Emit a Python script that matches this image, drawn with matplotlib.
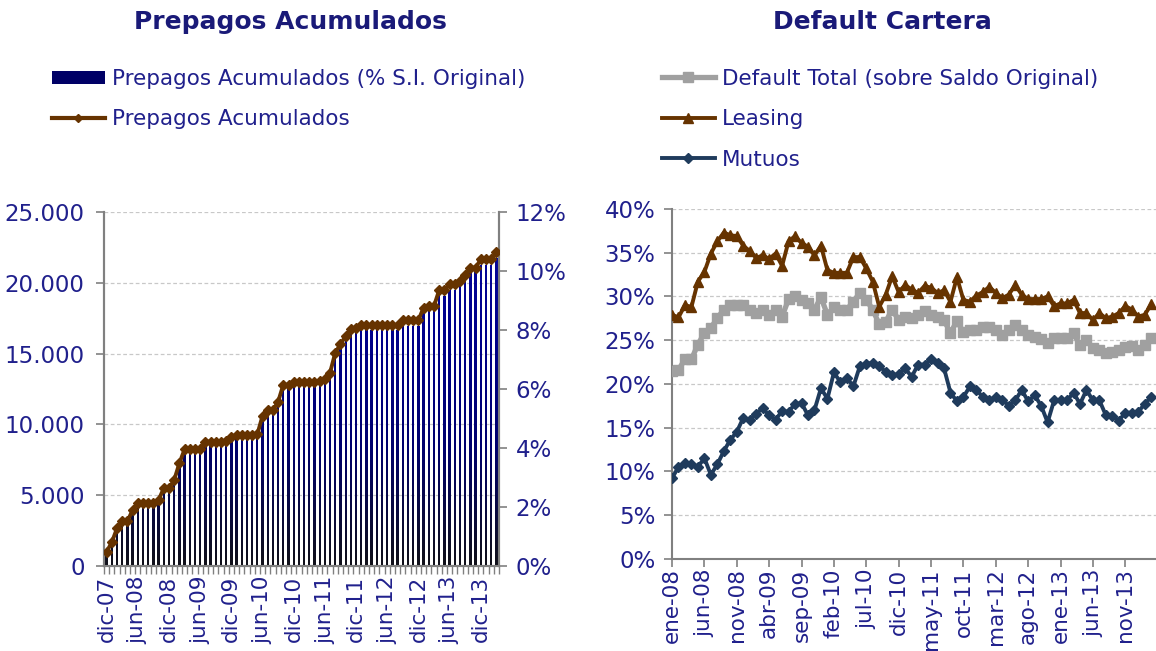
import numpy as np
import matplotlib
matplotlib.use("Agg")
import matplotlib.pyplot as plt
from matplotlib.lines import Line2D
from matplotlib.patches import Patch
from matplotlib.path import Path
from matplotlib.colors import LinearSegmentedColormap

# ---------------- data ----------------
# Left chart: monthly, dic-07 .. mar-14 (76 months)
prepagos_acum = [1000, 1670, 2660, 3180, 3150, 3950, 4430, 4430, 4430, 4430,
                 4660, 5490, 5490, 6070, 7250, 8240, 8240, 8240, 8240, 8780,
                 8780, 8780, 8780, 8850, 9130, 9270, 9270, 9270, 9270, 9300,
                 10600, 11000, 11000, 11600, 12800, 12800, 13000, 13000, 13000, 13000,
                 13000, 13070, 13190, 13660, 15070, 15660, 16240, 16720, 16840, 17000,
                 17000, 17000, 17000, 17000, 17000, 17000, 17000, 17370, 17370, 17370,
                 17370, 18250, 18370, 18370, 19490, 19490, 19890, 19900, 20130, 20530,
                 21070, 21070, 21660, 21660, 21660, 22180]
prepagos_pct = [0.40, 0.70, 1.15, 1.45, 1.45, 1.80, 2.05, 2.05, 2.05, 2.05,
                2.15, 2.50, 2.50, 2.80, 3.35, 3.85, 3.85, 3.85, 3.85, 4.10,
                4.10, 4.10, 4.10, 4.15, 4.25, 4.35, 4.35, 4.35, 4.35, 4.40,
                4.95, 5.15, 5.15, 5.45, 6.00, 6.00, 6.10, 6.10, 6.10, 6.10,
                6.10, 6.15, 6.20, 6.45, 7.10, 7.40, 7.65, 7.85, 7.95, 8.00,
                8.00, 8.00, 8.00, 8.00, 8.00, 8.00, 8.00, 8.15, 8.15, 8.15,
                8.15, 8.60, 8.65, 8.65, 9.15, 9.15, 9.35, 9.35, 9.50, 9.70,
                9.95, 9.95, 10.20, 10.20, 10.20, 10.45]
left_tick_pos = [0, 6, 12, 18, 24, 30, 36, 42, 48, 54, 60, 66, 72]
left_tick_labels = ["dic-07", "jun-08", "dic-08", "jun-09", "dic-09", "jun-10",
                    "dic-10", "jun-11", "dic-11", "jun-12", "dic-12", "jun-13", "dic-13"]
left_yticks = [0, 5000, 10000, 15000, 20000, 25000]
left_yticklabels = ["0", "5.000", "10.000", "15.000", "20.000", "25.000"]
right_pct_ticks = [0, 2, 4, 6, 8, 10, 12]

# Right chart: monthly, ene-08 .. mar-14 (75 months), values in %
default_total = [21.5, 21.6, 22.8, 22.8, 24.5, 25.8, 26.4, 27.5, 28.5, 29.0,
                 29.0, 29.0, 28.5, 28.1, 28.5, 27.9, 28.5, 27.7, 29.7, 30.1,
                 29.6, 29.2, 28.5, 29.9, 27.9, 28.8, 28.5, 28.5, 29.4, 30.4,
                 29.6, 28.5, 26.8, 27.1, 28.5, 27.3, 27.7, 27.5, 27.9, 28.3,
                 27.9, 27.7, 27.3, 25.8, 27.2, 25.9, 26.2, 26.2, 26.5, 26.5,
                 26.2, 25.6, 26.2, 26.7, 26.2, 25.6, 25.4, 25.1, 24.7, 25.2,
                 25.2, 25.2, 25.8, 24.4, 25.0, 24.1, 23.9, 23.5, 23.7, 23.9,
                 24.2, 24.3, 23.9, 24.4, 25.3]
leasing = [27.9, 27.6, 29.0, 28.8, 31.7, 32.8, 34.9, 36.3, 37.3, 37.0,
           36.9, 35.8, 35.2, 34.4, 34.7, 34.3, 34.9, 33.5, 36.3, 36.9,
           36.1, 35.7, 34.7, 35.8, 33.0, 32.7, 32.7, 32.7, 34.5, 34.5,
           33.2, 31.7, 28.8, 30.2, 32.3, 30.5, 31.3, 30.8, 30.4, 31.2,
           31.0, 30.4, 30.7, 29.4, 32.2, 29.6, 29.4, 30.1, 30.5, 31.1,
           30.4, 29.8, 30.2, 31.3, 30.2, 29.7, 29.7, 29.7, 30.0, 28.9,
           29.2, 29.2, 29.6, 28.1, 28.1, 27.3, 28.1, 27.5, 27.7, 28.1,
           28.9, 28.5, 27.7, 27.9, 29.1]
mutuos = [9.2, 10.5, 10.9, 10.8, 10.5, 11.5, 9.6, 10.8, 12.3, 13.6,
          14.5, 16.1, 15.9, 16.6, 17.2, 16.4, 15.9, 16.9, 16.8, 17.7,
          17.8, 16.4, 17.0, 19.5, 18.3, 21.3, 20.2, 20.7, 19.7, 22.0,
          22.3, 22.4, 22.0, 21.4, 21.0, 21.1, 21.8, 20.8, 22.2, 22.2,
          22.8, 22.4, 21.8, 19.0, 18.0, 18.5, 19.7, 19.3, 18.5, 18.1,
          18.5, 18.2, 17.5, 18.1, 19.3, 18.0, 18.7, 17.5, 15.6, 18.1,
          18.1, 18.1, 19.0, 17.7, 19.3, 18.1, 18.1, 16.4, 16.3, 15.8,
          16.7, 16.7, 16.8, 17.7, 18.5]
right_tick_pos = [0, 5, 10, 15, 20, 25, 30, 35, 40, 45, 50, 55, 60, 65, 70]
right_tick_labels = ["ene-08", "jun-08", "nov-08", "abr-09", "sep-09", "feb-10",
                     "jul-10", "dic-10", "may-11", "oct-11", "mar-12", "ago-12",
                     "ene-13", "jun-13", "nov-13"]
right_yticks = [0, 5, 10, 15, 20, 25, 30, 35, 40]

# ---------------- style ----------------
TXT = "#20208C"
TITLE = "#1A1A78"
BROWN = "#663300"
GRAY = "#A0A0A0"
NAVY_LINE = "#1F3B5C"
SPINE = "#808080"
GRID = "#C8C8C8"
YTICK_FS = 16.5
XTICK_FS = 15.5
LEG_FS = 15.5
TITLE_FS = 18

plt.rcParams["font.family"] = ["DejaVu Sans"]

W, H = 1156, 651
fig = plt.figure(figsize=(W / 100, H / 100), dpi=100)

def fx(px):
    return px / W

def fy(py):
    return 1 - py / H

# ---------------- left chart ----------------
axb = fig.add_axes([fx(104), fy(566), fx(499) - fx(104), fy(212) - fy(566)])
n_left = len(prepagos_pct)
xl = np.arange(n_left)
pct_max = 12.0
cnt_max = 25000.0
axb.set_xlim(-0.5, n_left - 0.5)
axb.set_ylim(0, pct_max)

# gridlines aligned with the left (count) ticks
for v in left_yticks[1:]:
    axb.axhline(v / cnt_max * pct_max, color=GRID, lw=0.9, ls=(0, (3, 2)), zorder=0)

bars = axb.bar(xl, prepagos_pct, width=0.45, color="#000080", edgecolor="none", zorder=2)
paths = [b.get_path().transformed(b.get_patch_transform()) for b in bars]
compound = Path.make_compound_path(*paths)
grad = np.linspace(0, 1, 256).reshape(-1, 1)
cmap = LinearSegmentedColormap.from_list("g", ["#101018", "#00006E", "#00008C", "#0A0AA0"])
im = axb.imshow(grad, extent=(-0.5, n_left - 0.5, 0, pct_max), origin="lower",
                aspect="auto", cmap=cmap, zorder=3, interpolation="bilinear")
im.set_clip_path(compound, transform=axb.transData)
for b in bars:
    b.set_visible(False)

axb.set_xticks(left_tick_pos)
axb.set_xticklabels(left_tick_labels, rotation=90)
axb.set_xticks(np.arange(-0.5, n_left, 1.0), minor=True)
axb.tick_params(axis="x", which="major", length=0, labelcolor=TXT, labelsize=XTICK_FS, pad=7)
axb.tick_params(axis="x", which="minor", length=6, color=SPINE, width=1.0)
axb.spines["top"].set_visible(False)
for s in ["left", "right", "bottom"]:
    axb.spines[s].set_color(SPINE)
    axb.spines[s].set_linewidth(1.5)

axl = axb.twinx()
axl.set_ylim(0, cnt_max)
axl.plot(xl, prepagos_acum, color=BROWN, lw=2.8, marker="D", ms=5.5, mfc=BROWN, mec=BROWN, zorder=5)
axl.set_xlim(-0.5, n_left - 0.5)
axl.yaxis.tick_left()
axl.set_yticks(left_yticks)
axl.set_yticklabels(left_yticklabels)
axl.tick_params(axis="y", colors=SPINE, labelcolor=TXT, labelsize=YTICK_FS,
                length=6, width=1.2, pad=8)
axl.spines["top"].set_visible(False)
for s in ["left", "right", "bottom"]:
    axl.spines[s].set_color(SPINE)
    axl.spines[s].set_linewidth(1.5)

# percent axis on the right (after twinx, which resets tick sides)
axb.yaxis.tick_right()
axb.set_yticks(right_pct_ticks)
axb.set_yticklabels([f"{t}%" for t in right_pct_ticks])
axb.tick_params(axis="y", colors=SPINE, labelcolor=TXT, labelsize=YTICK_FS,
                length=6, width=1.2, pad=6)

fig.text(fx(290), fy(22), "Prepagos Acumulados", ha="center", va="center",
         fontsize=TITLE_FS, fontweight="bold", color=TITLE)

leg_handles_l = [Patch(facecolor="#000066", edgecolor="none"),
                 Line2D([], [], color=BROWN, lw=3, marker="D", ms=4)]
fig.legend(leg_handles_l, ["Prepagos Acumulados (% S.I. Original)", "Prepagos Acumulados"],
           loc="upper left", bbox_to_anchor=(fx(52), fy(69)), frameon=False,
           fontsize=LEG_FS, labelcolor=TXT, handlelength=2.45, handletextpad=0.33,
           labelspacing=0.95, borderpad=0, borderaxespad=0, numpoints=1, handleheight=0.6)

# ---------------- right chart ----------------
axr = fig.add_axes([fx(672), fy(558.7), 1 - fx(672), fy(209) - fy(558.7)])
xr = np.arange(len(mutuos))
axr.set_xlim(0, (1156 - 672) / 6.476)
axr.set_ylim(0, 40)
axr.grid(axis="y", color=GRID, lw=0.9, ls=(0, (3, 2)), zorder=0)
axr.set_axisbelow(True)
axr.plot(xr, default_total, color=GRAY, lw=3.8, marker="s", ms=6.5, mfc=GRAY, mec=GRAY, zorder=3,
         label="Default Total (sobre Saldo Original)")
axr.plot(xr, leasing, color=BROWN, lw=2.8, marker="^", ms=6.5, mfc=BROWN, mec=BROWN, zorder=4,
         label="Leasing")
axr.plot(xr, mutuos, color=NAVY_LINE, lw=2.8, marker="D", ms=5, mfc=NAVY_LINE, mec=NAVY_LINE,
         zorder=5, label="Mutuos")
axr.set_yticks(right_yticks)
axr.set_yticklabels([f"{t}%" for t in right_yticks])
axr.set_xticks(right_tick_pos)
axr.set_xticklabels(right_tick_labels, rotation=90)
axr.tick_params(axis="y", colors=SPINE, labelcolor=TXT, labelsize=YTICK_FS, length=6, width=1.2, pad=6)
axr.tick_params(axis="x", colors=SPINE, labelcolor=TXT, labelsize=XTICK_FS, length=6, width=1.2, pad=1)
for s in ["top", "right"]:
    axr.spines[s].set_visible(False)
for s in ["left", "bottom"]:
    axr.spines[s].set_color(SPINE)
    axr.spines[s].set_linewidth(1.5)

fig.text(fx(882), fy(22), "Default Cartera", ha="center", va="center",
         fontsize=TITLE_FS, fontweight="bold", color=TITLE)

h, l = axr.get_legend_handles_labels()
fig.legend(h, l, loc="upper left", bbox_to_anchor=(fx(662), fy(69)), frameon=False,
           fontsize=LEG_FS, labelcolor=TXT, handlelength=2.45, handletextpad=0.33,
           labelspacing=0.95, borderpad=0, borderaxespad=0, numpoints=1)

fig.savefig("out.png", dpi=100, facecolor="white")
